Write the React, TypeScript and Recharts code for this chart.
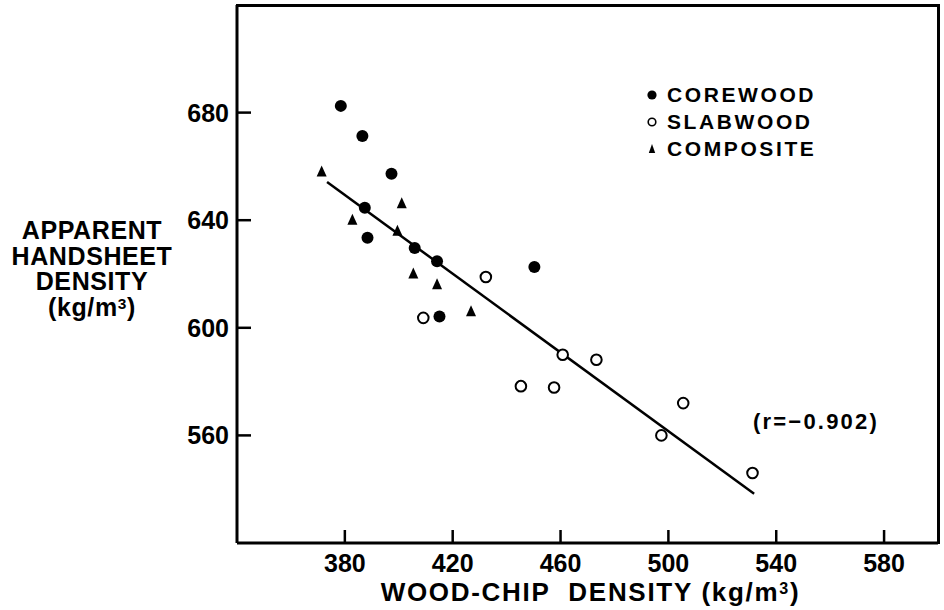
import React from "react"
import { ScatterChart, Scatter, XAxis, YAxis } from "recharts"

// values (kg/m3)
const corewoodChip = [378.5, 386.5, 397.3, 387.4, 388.4, 405.9, 414.2, 415.1, 450.3]
const corewoodSheet = [682.5, 671.3, 657.3, 644.6, 633.5, 629.7, 624.7, 604.2, 622.6]

const slabwoodChip = [432.3, 409.1, 460.8, 473.3, 445.3, 457.6, 505.5, 497.4, 531.2]
const slabwoodSheet = [618.9, 603.7, 590.0, 588.1, 578.3, 577.8, 572.0, 560.0, 546.0]

const compositeChip = [371.4, 401.1, 382.8, 399.5, 405.4, 414.2, 426.8]
const compositeSheet = [657.9, 646.1, 640.0, 635.9, 620.0, 616.0, 606.0]

// regression line end points
const fitChip = [373.4, 531.8]
const fitSheet = [654.2, 538.3]

const xTicks = [380, 420, 460, 500, 540, 580]
const yTicks = [560, 600, 640, 680]
const xDomain = [340, 600]
const yDomain = [520, 720]

const zip = (xs: number[], ys: number[]) => xs.map((x, i) => ({ x, y: ys[i] }))

const FONT = '"Liberation Sans", Arial, Helvetica, sans-serif'

const XTick = (props: any) => {
    const { x, y, payload } = props
    return (
        <g>
            <line x1={x} x2={x} y1={y} y2={y - 13} stroke="#000" strokeWidth={2.5} />
            <text x={x} y={y + 28.5} textAnchor="middle" fontSize={25} fontWeight={700} fontFamily={FONT} fill="#000">
                {payload.value}
            </text>
        </g>
    )
}

const YTick = (props: any) => {
    const { x, y, payload } = props
    return (
        <g>
            <line x1={x} x2={x + 14} y1={y} y2={y} stroke="#000" strokeWidth={2.5} />
            <text x={x - 8} y={y + 9} textAnchor="end" fontSize={25} fontWeight={700} fontFamily={FONT} fill="#000">
                {payload.value}
            </text>
        </g>
    )
}

const FilledDot = (props: any) => <circle cx={props.cx} cy={props.cy} r={6} fill="#000" />
const OpenDot = (props: any) => <circle cx={props.cx} cy={props.cy} r={5.3} fill="#fff" stroke="#000" strokeWidth={2} />
const Tri = (props: any) => {
    const { cx, cy } = props
    return <path d={`M${cx},${cy - 6.5} L${cx + 5},${cy + 4.5} L${cx - 5},${cy + 4.5} Z`} fill="#000" />
}
const NoDot = () => <g />

const legendItems = [
    { name: "COREWOOD", icon: <circle cx={8} cy={8} r={4.6} fill="#000" /> },
    { name: "SLABWOOD", icon: <circle cx={8} cy={8} r={3.8} fill="#fff" stroke="#000" strokeWidth={1.6} /> },
    { name: "COMPOSITE", icon: <path d="M8,3 L11.2,12 L4.8,12 Z" fill="#000" /> },
]

const sup = { fontSize: "0.62em", position: "relative" as const, top: "-0.45em", lineHeight: 0 }

export default function App() {
    return (
        <div
            style={{
                position: "relative",
                width: 944,
                height: 610,
                overflow: "hidden",
                background: "#fff",
                color: "#000",
                fontFamily: FONT,
                fontWeight: 700,
            }}
        >
            <style>{"html, body { margin: 0; padding: 0; }"}</style>
            <ScatterChart width={944} height={610} margin={{ top: 5, right: 6, bottom: 37, left: 177 }}>
                <XAxis
                    type="number"
                    dataKey="x"
                    domain={xDomain}
                    ticks={xTicks}
                    interval={0}
                    height={30}
                    tickSize={0}
                    tickMargin={0}
                    tick={<XTick />}
                    axisLine={{ stroke: "#000", strokeWidth: 3 }}
                    tickLine={false}
                />
                <YAxis
                    type="number"
                    dataKey="y"
                    domain={yDomain}
                    ticks={yTicks}
                    interval={0}
                    width={60}
                    tickSize={0}
                    tickMargin={0}
                    tick={<YTick />}
                    axisLine={{ stroke: "#000", strokeWidth: 3 }}
                    tickLine={false}
                />
                <Scatter
                    name="fit"
                    data={zip(fitChip, fitSheet)}
                    line={{ stroke: "#000", strokeWidth: 2.5 }}
                    shape={<NoDot />}
                    isAnimationActive={false}
                />
                <Scatter name="COREWOOD" data={zip(corewoodChip, corewoodSheet)} shape={<FilledDot />} isAnimationActive={false} />
                <Scatter name="SLABWOOD" data={zip(slabwoodChip, slabwoodSheet)} shape={<OpenDot />} isAnimationActive={false} />
                <Scatter name="COMPOSITE" data={zip(compositeChip, compositeSheet)} shape={<Tri />} isAnimationActive={false} />
            </ScatterChart>

            {/* top and right edges of the plot frame */}
            <svg width={944} height={610} style={{ position: "absolute", left: 0, top: 0, pointerEvents: "none" }}>
                <polyline points="236,5.5 938.5,5.5 938.5,544" fill="none" stroke="#000" strokeWidth={3} />
            </svg>

            {/* legend */}
            <div style={{ position: "absolute", left: 644, top: 81 }}>
                {legendItems.map((item) => (
                    <div key={item.name} style={{ display: "flex", alignItems: "center", height: 27 }}>
                        <svg width={16} height={16} style={{ marginRight: 7 }}>
                            {item.icon}
                        </svg>
                        <span style={{ fontSize: 21, letterSpacing: 2.6, lineHeight: "27px" }}>{item.name}</span>
                    </div>
                ))}
            </div>

            <div style={{ position: "absolute", left: 753, top: 410, fontSize: 22, letterSpacing: 2.2, lineHeight: "24px", whiteSpace: "nowrap" }}>
                (r=−0.902)
            </div>

            {/* y axis title */}
            <div
                style={{
                    position: "absolute",
                    left: 2,
                    width: 180,
                    top: 218,
                    textAlign: "center",
                    fontSize: 25,
                    letterSpacing: 0.6,
                    lineHeight: "25.5px",
                }}
            >
                <div>APPARENT</div>
                <div>HANDSHEET</div>
                <div>DENSITY</div>
                <div>
                    (kg/m<span style={sup}>3</span>)
                </div>
            </div>

            {/* x axis title */}
            <div
                style={{
                    position: "absolute",
                    left: 0,
                    width: 1181,
                    top: 579,
                    textAlign: "center",
                    fontSize: 26,
                    lineHeight: "26px",
                    letterSpacing: 1.7,
                    whiteSpace: "nowrap",
                }}
            >
                WOOD-CHIP&nbsp; DENSITY (kg/m<span style={sup}>3</span>)
            </div>
        </div>
    )
}
